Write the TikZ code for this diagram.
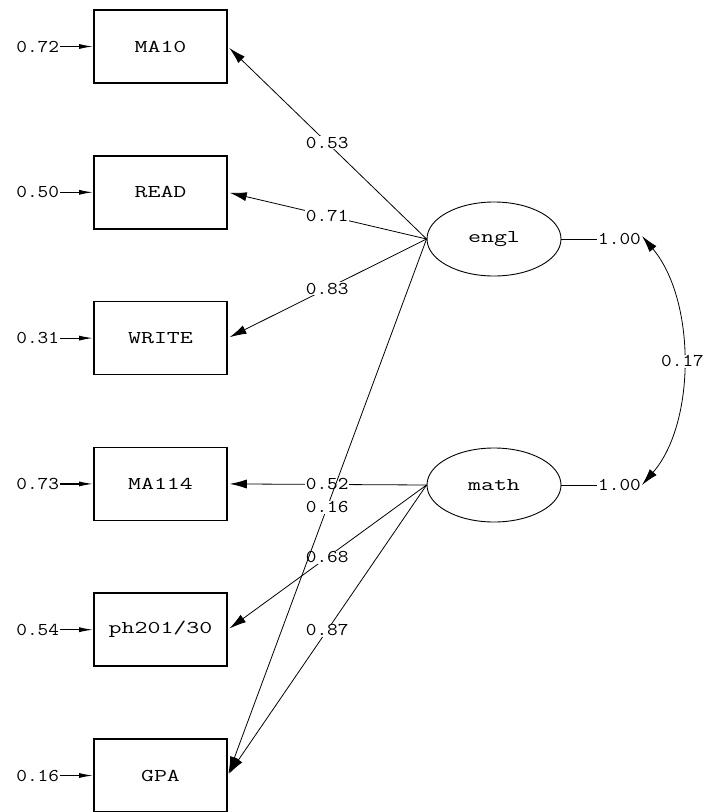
\documentclass[tikz,border=0pt]{standalone}
\usepackage{fontspec}
\usepackage{tikz}
\usetikzlibrary{arrows.meta,positioning,shapes.geometric}
\newfontfamily\varfont[FakeStretch=1.4]{Latin Modern Mono}
\newfontfamily\numfont[FakeStretch=1.15]{Latin Modern Mono}

\begin{document}
\begin{tikzpicture}[x=1pt,y=-1pt,
    obs/.style={draw,line width=1.6pt,minimum width=133pt,minimum height=73pt,
        inner sep=0pt,font=\varfont\fontsize{18}{18}\selectfont},
    latent/.style={draw,ellipse,line width=0.9pt,minimum width=134pt,minimum height=74pt,
        inner sep=0pt,font=\varfont\fontsize{18}{18}\selectfont},
    num/.style={inner sep=1pt,font=\numfont\fontsize{18}{18}\selectfont},
    lbl/.style={num,fill=white},
    path/.style={line width=0.8pt,-{Latex[length=17pt,width=9pt]},shorten >=2pt},
    err/.style={line width=1.2pt,-{Latex[length=14pt,width=5pt]}}]

    \useasboundingbox (0,0) rectangle (704,812);

    % Draw observed variables with their error variances
    \foreach \name/\txt/\err [count=\i from 0] in
        {ma10/MA10/0.72, read/READ/0.50, write/WRITE/0.31,
         ma114/MA114/0.73, ph/{ph201/30}/0.54, gpa/GPA/0.16} {
        \node[obs] (\name) at (160.5,{46.5+145.8*\i}) {\txt};
        \node[num,left=33pt of \name] (e\name) {\err};
        \draw[err] (e\name) -- (\name);
    }

    % Draw latent variables
    \node[latent] (engl) at (494,239) {engl};
    \node[latent] (math) at (494,485) {math};

    % Draw loadings of math
    \foreach \t/\v in {ma114/0.52, ph/0.68, gpa/0.87}
        \draw[path] (math.west) -- node[lbl] {\v} (\t.east);

    % Draw loadings of engl
    \foreach \t/\v in {ma10/0.53, read/0.71, write/0.83, gpa/0.16}
        \draw[path] (engl.west) -- node[lbl] {\v} (\t.east);

    % Variances and correlation
    \node[num] (ve) at (619.5,239) {1.00};
    \node[num] (vm) at (619.5,485) {1.00};
    \draw[line width=0.9pt] (engl.east) -- (ve.west);
    \draw[line width=0.9pt] (math.east) -- (vm.west);
    \draw[line width=0.8pt,{Latex[length=17pt,width=9pt]}-{Latex[length=17pt,width=9pt]}]
        ([yshift=3pt]ve.east) .. controls (696,300) and (696,423) .. (vm.east)
        node[lbl,midway] {0.17};
\end{tikzpicture}
\end{document}
